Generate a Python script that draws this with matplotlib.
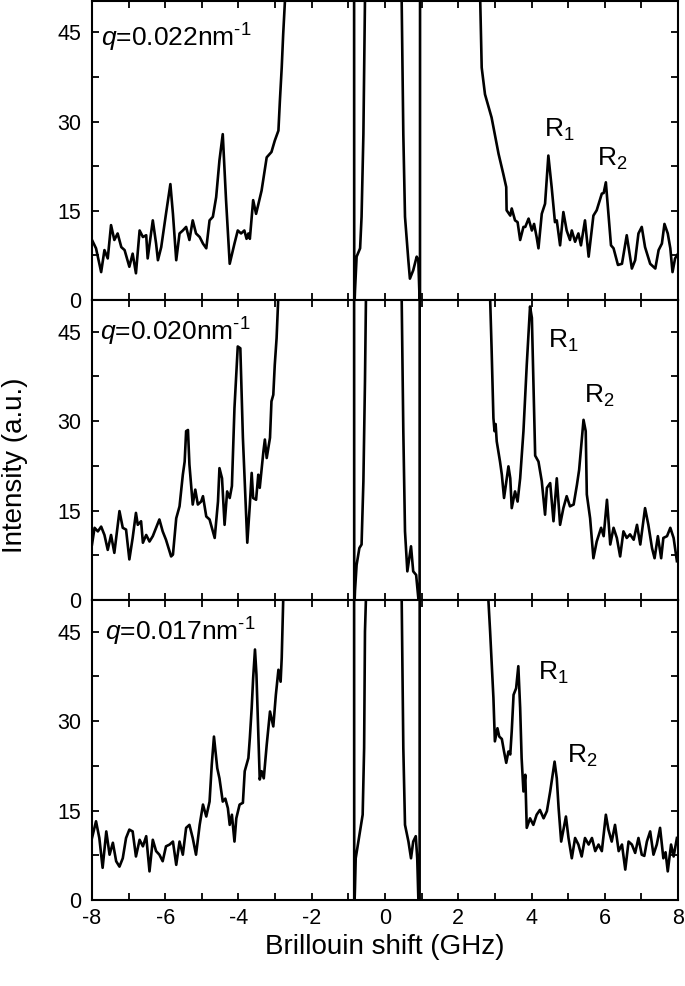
import numpy as np
import matplotlib
matplotlib.use("Agg")
import matplotlib.pyplot as plt
from matplotlib.ticker import MultipleLocator

plt.rcParams['font.family'] = ['Liberation Sans', 'DejaVu Sans']
plt.rcParams['mathtext.fontset'] = 'custom'
plt.rcParams['mathtext.rm'] = 'Liberation Sans'
plt.rcParams['mathtext.it'] = 'Liberation Sans:italic'
plt.rcParams['axes.unicode_minus'] = False

# spectra (GHz, a.u.); values above 50 are off-scale
top_x = [-8.0, -7.89, -7.75, -7.66, -7.57, -7.48, -7.39, -7.30, -7.20, -7.11,
         -6.98, -6.89, -6.80, -6.70, -6.61, -6.52, -6.48, -6.34, -6.25, -6.20,
         -6.11, -5.98, -5.86, -5.79, -5.70, -5.61, -5.52, -5.43, -5.34, -5.25,
         -5.16, -5.06, -4.97, -4.88, -4.79, -4.70, -4.61, -4.52, -4.43, -4.34,
         -4.24, -4.11, -4.02, -3.93, -3.84, -3.78, -3.73, -3.69, -3.60, -3.52,
         -3.37, -3.23, -3.10, -3.01, -2.91, -2.87, -2.82, -2.78, -2.73, -2.65,
         -1.5, -0.86, -0.84, -0.82, -0.775, -0.68, -0.64, -0.59, -0.547, -0.5,
         0.0, 0.42, 0.455, 0.50, 0.546, 0.637, 0.68, 0.77, 0.865, 0.91,
         0.94, 0.955, 0.965, 1.8, 2.55, 2.60, 2.64, 2.73, 2.91, 3.10,
         3.23, 3.31, 3.32, 3.42, 3.46, 3.55, 3.62, 3.69, 3.78, 3.83,
         3.92, 4.01, 4.07, 4.14, 4.19, 4.28, 4.37, 4.46, 4.55, 4.64,
         4.69, 4.78, 4.87, 4.96, 5.05, 5.10, 5.19, 5.28, 5.35, 5.46,
         5.56, 5.69, 5.78, 5.92, 5.97, 6.03, 6.10, 6.17, 6.24, 6.36,
         6.47, 6.60, 6.74, 6.83, 6.92, 7.01, 7.10, 7.24, 7.38, 7.47,
         7.56, 7.63, 7.72, 7.79, 7.85, 7.92, 8.0]
top_y = [10.1, 8.7, 4.7, 8.4, 7.0, 12.6, 10.1, 11.2, 8.9, 8.4,
         5.6, 7.8, 4.5, 11.7, 10.6, 10.9, 7.0, 13.4, 9.5, 6.7,
         8.9, 14.5, 19.5, 14.5, 6.7, 11.2, 11.7, 12.3, 10.1, 13.4,
         11.2, 10.6, 9.5, 8.7, 13.4, 14.0, 17.3, 23.5, 27.9, 16.8,
         6.1, 9.5, 11.7, 11.2, 11.7, 10.3, 11.2, 10.3, 16.8, 14.5,
         18.4, 24.0, 24.9, 26.8, 28.5, 33.5, 39.1, 44.7, 50.3, 80,
         300, 300, -2, 1.5, 7.3, 8.7, 14.0, 27.9, 50.3, 90,
         300, 90, 50.3, 27.9, 14.0, 6.7, 3.6, 5.0, 7.3, 6.7,
         0.5, -2, 300, 300, 80, 50.3, 39.1, 34.6, 30.7, 24.6,
         21.2, 19.0, 15.1, 14.2, 15.4, 13.4, 13.1, 10.1, 12.3, 12.3,
         13.7, 11.7, 12.8, 10.6, 8.7, 14.5, 16.2, 24.3, 19.0, 13.1,
         13.4, 9.2, 14.8, 11.7, 10.1, 11.7, 9.8, 11.2, 9.2, 13.4,
         7.3, 14.2, 15.1, 17.9, 18.0, 19.8, 14.5, 9.2, 8.7, 5.9,
         6.1, 10.9, 5.3, 6.7, 11.2, 12.3, 8.9, 6.1, 5.3, 8.4,
         9.5, 12.8, 11.2, 8.7, 4.7, 7.0, 7.8]

mid_x = [-8.0, -7.93, -7.84, -7.75, -7.66, -7.57, -7.48, -7.39, -7.25, -7.16,
         -7.07, -6.98, -6.89, -6.80, -6.75, -6.66, -6.61, -6.52, -6.43, -6.34,
         -6.25, -6.16, -6.07, -5.98, -5.84, -5.79, -5.70, -5.61, -5.52, -5.47,
         -5.43, -5.38, -5.34, -5.25, -5.18, -5.11, -5.02, -4.97, -4.88, -4.79,
         -4.65, -4.56, -4.52, -4.45, -4.38, -4.31, -4.24, -4.18, -4.11, -4.02,
         -3.95, -3.88, -3.76, -3.69, -3.64, -3.60, -3.52, -3.46, -3.42, -3.32,
         -3.28, -3.23, -3.14, -3.10, -3.05, -3.01, -2.96, -2.92, -2.85, -1.5,
         -0.86, -0.84, -0.82, -0.775, -0.70, -0.64, -0.59, -0.547, -0.52, -0.48,
         0.0, 0.42, 0.455, 0.50, 0.546, 0.61, 0.71, 0.77, 0.85, 0.91,
         0.945, 0.956, 2.0, 2.82, 2.87, 2.91, 2.96, 2.99, 3.02, 3.05,
         3.14, 3.19, 3.25, 3.37, 3.42, 3.46, 3.55, 3.62, 3.69, 3.78,
         3.87, 3.96, 4.01, 4.10, 4.19, 4.28, 4.37, 4.42, 4.51, 4.60,
         4.69, 4.78, 4.87, 4.96, 5.05, 5.15, 5.24, 5.30, 5.42, 5.48,
         5.51, 5.60, 5.69, 5.78, 5.90, 5.97, 6.06, 6.15, 6.24, 6.33,
         6.42, 6.51, 6.60, 6.69, 6.79, 6.88, 6.97, 7.10, 7.19, 7.29,
         7.36, 7.45, 7.54, 7.60, 7.70, 7.79, 7.88, 7.97]
mid_y = [9.3, 12.1, 11.5, 12.3, 10.9, 8.4, 10.9, 7.9, 14.9, 12.1,
         11.8, 6.8, 10.4, 14.6, 12.6, 13.2, 9.6, 10.9, 9.8, 10.7,
         12.1, 13.5, 11.5, 10.1, 7.3, 7.6, 13.7, 15.7, 21.0, 23.2,
         28.3, 28.5, 22.7, 16.0, 18.5, 16.0, 16.5, 17.4, 14.0, 13.5,
         10.4, 16.5, 22.1, 20.4, 12.6, 18.2, 17.1, 19.1, 32.2, 42.5,
         42.2, 27.2, 9.6, 16.0, 21.3, 17.1, 16.8, 21.0, 18.8, 24.9,
         26.9, 23.8, 27.2, 33.3, 34.4, 39.4, 43.9, 49.8, 80, 300,
         300, -2, 1.5, 5.9, 8.7, 9.3, 19.9, 36.6, 50.6, 90,
         300, 90, 50.6, 28.3, 11.5, 4.8, 9.0, 4.8, 4.2, 0.3,
         -2, 300, 300, 80, 50.6, 42.2, 30.5, 28.3, 29.5, 26.6,
         23.2, 21.0, 17.1, 22.4, 20.4, 15.4, 18.2, 16.5, 20.4, 28.3,
         39.4, 49.2, 47.3, 24.2, 23.2, 19.9, 14.3, 18.8, 19.6, 13.2,
         20.4, 12.6, 15.4, 17.4, 15.7, 16.0, 19.3, 21.8, 30.2, 28.3,
         17.7, 13.7, 7.0, 9.8, 12.1, 10.7, 16.8, 9.3, 12.1, 10.4,
         7.3, 11.5, 10.4, 11.0, 10.1, 12.6, 9.3, 15.4, 12.6, 8.7,
         7.0, 10.7, 7.0, 10.4, 10.7, 12.1, 10.4, 6.5]

bot_x = [-8.0, -7.89, -7.80, -7.71, -7.61, -7.52, -7.43, -7.34, -7.25, -7.16,
         -7.07, -6.98, -6.89, -6.80, -6.70, -6.61, -6.52, -6.43, -6.34, -6.25,
         -6.16, -6.07, -5.98, -5.88, -5.79, -5.70, -5.61, -5.52, -5.43, -5.34,
         -5.25, -5.16, -5.06, -4.97, -4.88, -4.79, -4.73, -4.67, -4.58, -4.52,
         -4.43, -4.36, -4.29, -4.24, -4.18, -4.11, -4.06, -3.97, -3.88, -3.83,
         -3.73, -3.69, -3.64, -3.60, -3.55, -3.51, -3.46, -3.42, -3.37, -3.31,
         -3.23, -3.14, -3.05, -2.98, -2.91, -2.85, -2.82, -2.78, -2.72, -1.5,
         -0.86, -0.84, -0.82, -0.80, -0.70, -0.61, -0.57, -0.547, -0.52, -0.48,
         0.0, 0.42, 0.455, 0.50, 0.546, 0.64, 0.71, 0.77, 0.84, 0.88,
         0.91, 0.945, 0.956, 2.0, 2.78, 2.82, 2.87, 2.96, 3.00, 3.07,
         3.12, 3.19, 3.25, 3.31, 3.37, 3.42, 3.46, 3.51, 3.58, 3.64,
         3.69, 3.73, 3.78, 3.83, 3.87, 3.96, 4.05, 4.14, 4.23, 4.33,
         4.42, 4.51, 4.63, 4.69, 4.74, 4.81, 4.94, 5.01, 5.10, 5.19,
         5.28, 5.37, 5.46, 5.56, 5.65, 5.74, 5.83, 5.92, 6.03, 6.10,
         6.19, 6.28, 6.38, 6.47, 6.56, 6.65, 6.74, 6.83, 6.92, 7.01,
         7.08, 7.15, 7.24, 7.33, 7.42, 7.51, 7.60, 7.66, 7.72, 7.81,
         7.88, 7.97]
bot_y = [10.4, 13.2, 10.4, 5.4, 11.5, 7.6, 9.6, 6.5, 5.6, 7.0,
         10.4, 11.8, 11.5, 7.3, 10.1, 9.0, 10.7, 4.8, 10.1, 8.2,
         7.6, 6.5, 9.0, 9.3, 9.8, 5.9, 9.8, 7.6, 12.1, 12.6,
         10.4, 7.6, 12.6, 16.0, 14.0, 16.5, 22.7, 27.4, 22.1, 20.4,
         16.5, 17.0, 15.4, 12.6, 14.3, 9.8, 13.7, 16.0, 16.3, 21.6,
         23.8, 27.2, 32.2, 37.2, 42.0, 37.8, 28.3, 20.2, 21.6, 20.4,
         26.0, 31.6, 29.1, 34.4, 38.6, 36.6, 40.6, 50.1, 80, 300,
         300, -2, 2.0, 7.0, 10.9, 14.3, 25.5, 45.0, 50.6, 90,
         300, 90, 50.6, 25.5, 12.6, 9.8, 7.0, 9.8, 10.7, 7.0,
         0.3, -2, 300, 300, 80, 50.6, 45.0, 33.9, 26.6, 28.8,
         27.4, 27.0, 24.9, 23.0, 24.9, 24.4, 28.3, 34.4, 35.5, 39.2,
         32.2, 23.8, 18.2, 21.0, 12.1, 13.7, 12.6, 14.3, 15.1, 13.7,
         14.9, 18.2, 23.2, 20.4, 15.4, 9.8, 14.0, 10.4, 7.0, 10.4,
         9.3, 7.3, 10.4, 9.3, 10.4, 8.2, 9.3, 8.2, 14.3, 11.8,
         9.8, 12.6, 8.2, 9.3, 5.1, 9.8, 9.3, 7.9, 10.4, 7.6,
         7.4, 9.8, 11.5, 7.6, 9.3, 12.1, 7.0, 8.0, 4.8, 9.3,
         7.3, 10.4]

q_labels = [r"$q$=0.022nm$^{\text{-}1}$", r"$q$=0.020nm$^{\text{-}1}$",
            r"$q$=0.017nm$^{\text{-}1}$"]
# (x, y) of the R1 / R2 labels in data units
r1_pos = [(4.34, 27.5), (4.45, 42.3), (4.18, 36.9)]
r2_pos = [(5.79, 22.5), (5.44, 33.1), (4.97, 23.0)]
q_pos = [(-7.76, 42.6), (-7.79, 43.5), (-7.65, 43.5)]

spectra = [(top_x, top_y), (mid_x, mid_y), (bot_x, bot_y)]

fig = plt.figure(figsize=(6.85, 9.86), dpi=100)
bottoms = [0.6957, 0.3915, 0.0872]
heights = [0.3033, 0.3043, 0.3043]

for i, (xs, ys) in enumerate(spectra):
    ax = fig.add_axes([0.1343, bottoms[i], 0.8555, heights[i]])
    ax.plot(xs, ys, color='black', lw=1.9)
    ax.set_xlim(-8, 8)
    ax.set_ylim(0, 50.3)
    ax.xaxis.set_major_locator(MultipleLocator(2))
    ax.xaxis.set_minor_locator(MultipleLocator(1))
    ax.yaxis.set_major_locator(MultipleLocator(15))
    ax.yaxis.set_minor_locator(MultipleLocator(7.5))
    ax.tick_params(which='both', direction='in', top=True, right=True,
                   length=5, width=1.3, labelsize=15.5)
    ax.tick_params(axis='y', pad=8)
    ax.tick_params(axis='x', pad=6)
    for sp in ax.spines.values():
        sp.set_linewidth(1.5)
    if i < 2:
        ax.tick_params(labelbottom=False)
    ax.text(q_pos[i][0], q_pos[i][1], q_labels[i], fontsize=19)
    ax.text(r1_pos[i][0], r1_pos[i][1], "R$_1$", fontsize=19)
    ax.text(r2_pos[i][0], r2_pos[i][1], "R$_2$", fontsize=19)

fig.text(0.022, 0.528, "Intensity (a.u.)", rotation=90, fontsize=20,
         ha='center', va='center')
fig.text(0.5620, 0.040, "Brillouin shift (GHz)", fontsize=20,
         ha='center', va='center')

fig.savefig("out.png", dpi=100)
